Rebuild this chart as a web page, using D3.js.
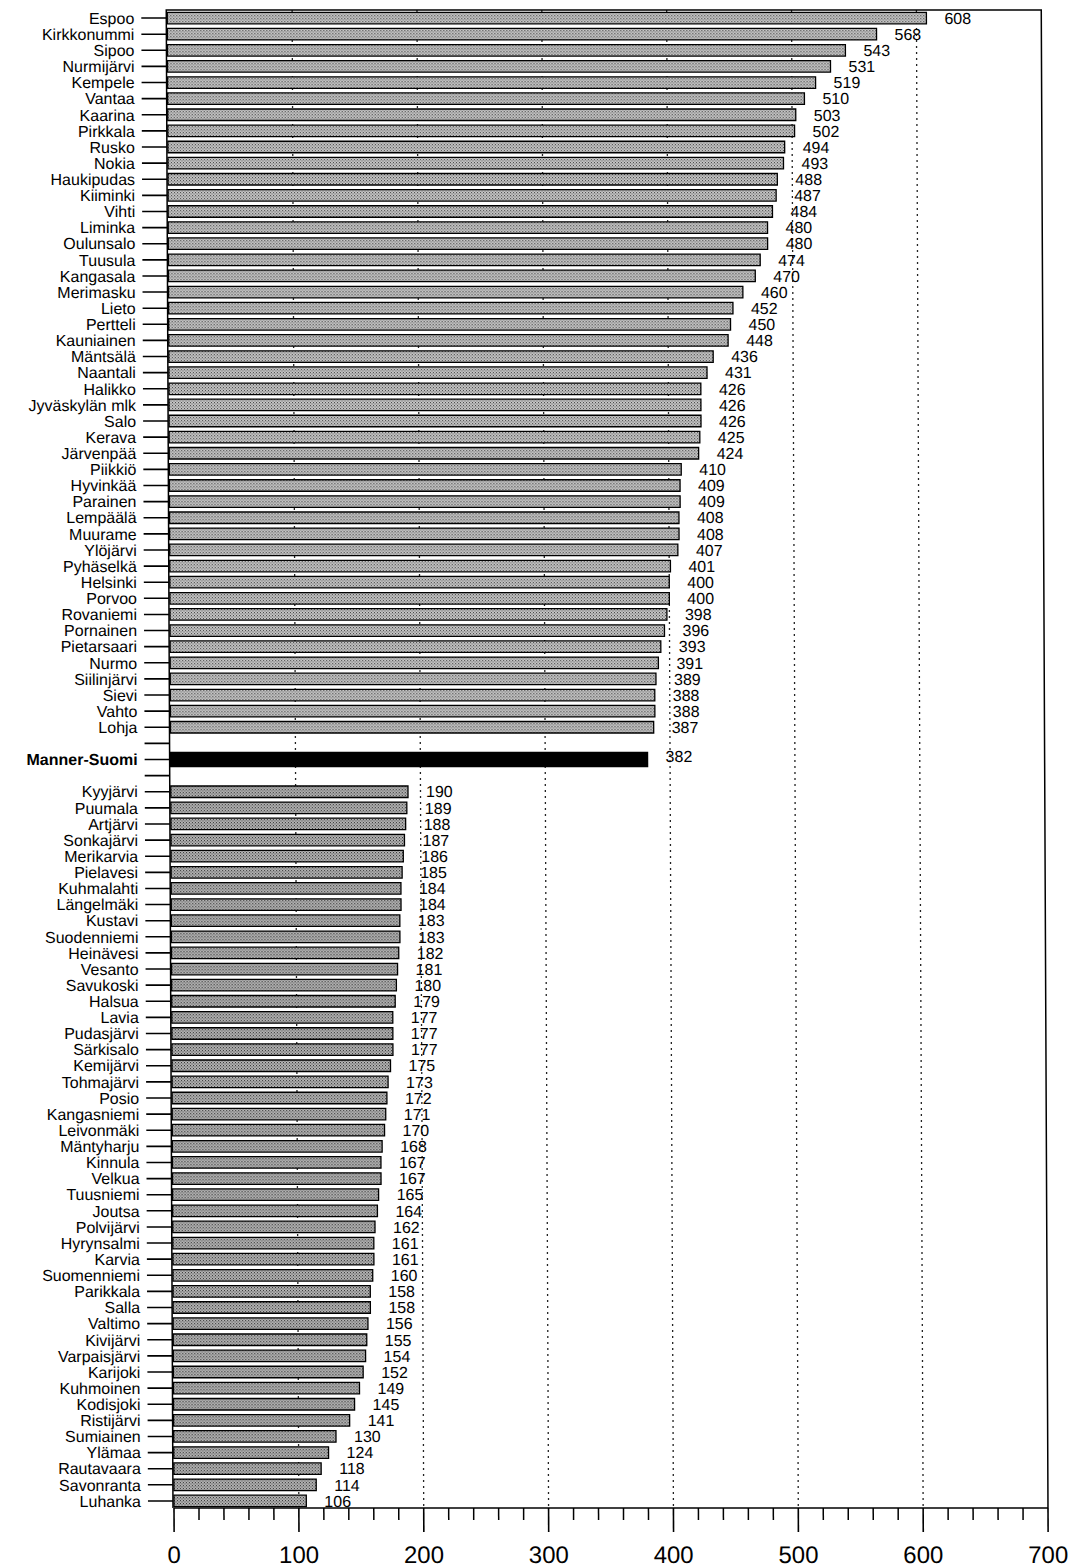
<!DOCTYPE html>
<html><head><meta charset="utf-8">
<script src="https://cdn.jsdelivr.net/npm/d3@7"></script>
<style>body{margin:0;background:#fff}svg{display:block}text{font-family:"Liberation Sans",Arial,Helvetica,sans-serif;fill:#000}</style>
</head><body><svg id="c" width="1081" height="1568"></svg>
<script>
const topNames=["Espoo","Kirkkonummi","Sipoo","Nurmijärvi","Kempele","Vantaa","Kaarina","Pirkkala","Rusko","Nokia","Haukipudas","Kiiminki","Vihti","Liminka","Oulunsalo","Tuusula","Kangasala","Merimasku","Lieto","Pertteli","Kauniainen","Mäntsälä","Naantali","Halikko","Jyväskylän mlk","Salo","Kerava","Järvenpää","Piikkiö","Hyvinkää","Parainen","Lempäälä","Muurame","Ylöjärvi","Pyhäselkä","Helsinki","Porvoo","Rovaniemi","Pornainen","Pietarsaari","Nurmo","Siilinjärvi","Sievi","Vahto","Lohja"];
const topValues=[608,568,543,531,519,510,503,502,494,493,488,487,484,480,480,474,470,460,452,450,448,436,431,426,426,426,425,424,410,409,409,408,408,407,401,400,400,398,396,393,391,389,388,388,387];
const avgName="Manner-Suomi";
const avgValue=382;
const bottomNames=["Kyyjärvi","Puumala","Artjärvi","Sonkajärvi","Merikarvia","Pielavesi","Kuhmalahti","Längelmäki","Kustavi","Suodenniemi","Heinävesi","Vesanto","Savukoski","Halsua","Lavia","Pudasjärvi","Särkisalo","Kemijärvi","Tohmajärvi","Posio","Kangasniemi","Leivonmäki","Mäntyharju","Kinnula","Velkua","Tuusniemi","Joutsa","Polvijärvi","Hyrynsalmi","Karvia","Suomenniemi","Parikkala","Salla","Valtimo","Kivijärvi","Varpaisjärvi","Karijoki","Kuhmoinen","Kodisjoki","Ristijärvi","Sumiainen","Ylämaa","Rautavaara","Savonranta","Luhanka"];
const bottomValues=[190,189,188,187,186,185,184,184,183,183,182,181,180,179,177,177,177,175,173,172,171,170,168,167,167,165,164,162,161,161,160,158,158,156,155,154,152,149,145,141,130,124,118,114,106];
const gridValues=[100,200,300,400,500,600];
const majorTicks=[0,100,200,300,400,500,600,700];
const minorStep=20;

const rows=[];
topNames.forEach((n,i)=>rows.push({name:n,value:topValues[i],group:"top"}));
rows.push({name:"",value:null,group:"gap"});
rows.push({name:avgName,value:avgValue,group:"avg"});
rows.push({name:"",value:null,group:"gap"});
bottomNames.forEach((n,i)=>rows.push({name:n,value:bottomValues[i],group:"bottom"}));
rows.forEach((d,i)=>d.i=i);

const svg=d3.select("#c");
const defs=svg.append("defs");
function pat(id,bg,dot){
  const p=defs.append("pattern").attr("id",id).attr("width",3).attr("height",3).attr("patternUnits","userSpaceOnUse");
  p.append("rect").attr("width",3).attr("height",3).attr("fill",bg);
  p.append("rect").attr("x",0).attr("y",0).attr("width",1).attr("height",1).attr("fill",dot);
  p.append("rect").attr("x",1.5).attr("y",1.5).attr("width",1).attr("height",1).attr("fill",dot);
}
pat("pTop","#c6c6c6","#3a3a3a");
pat("pBot","#b4b4b4","#2a2a2a");

const yTop=10, yBot=1508;
const x=d3.scaleLinear().domain([0,700]).range([174,1048]);
const y=d3.scaleBand().domain(rows.map(d=>d.i)).range([yTop,1509]);
const cy=d=>y(d.i)+y.bandwidth()/2;

// slight skew as in the scanned original
const k=0.0045;
const g=svg.append("g").attr("transform",`translate(${-k*yBot},0) skewX(${Math.atan(k)*180/Math.PI})`);

// grid
g.selectAll("line.grid").data(gridValues).join("line")
  .attr("x1",d=>x(d)).attr("x2",d=>x(d)).attr("y1",yTop).attr("y2",yBot)
  .attr("stroke","#222").attr("stroke-width",1.3).attr("stroke-dasharray","2,4");

// frame
g.append("path").attr("d",`M${x(0)-1},${yBot}V${yTop}H${x(700)}V${yBot}`)
  .attr("fill","none").attr("stroke","#000").attr("stroke-width",1.5);

// y ticks
g.selectAll("line.yt").data(rows).join("line")
  .attr("x1",x(0)-26).attr("x2",x(0)-1)
  .attr("y1",cy).attr("y2",cy)
  .attr("stroke","#000").attr("stroke-width",1.6);

// bars
const bh=11.5;
const valued=rows.filter(d=>d.value!=null);
g.selectAll("rect.bar").data(valued).join("rect")
  .attr("x",x(0))
  .attr("y",d=>cy(d)-(d.group==="avg"?7:bh/2))
  .attr("width",d=>x(d.value)-x(0))
  .attr("height",d=>d.group==="avg"?14:bh)
  .attr("fill",d=>d.group==="avg"?"#000":(d.group==="top"?"url(#pTop)":"url(#pBot)"))
  .attr("stroke","#000").attr("stroke-width",1.3);

// category labels
g.selectAll("text.cat").data(rows).join("text")
  .attr("x",x(0)-33)
  .attr("y",cy)
  .attr("dy","0.36em")
  .attr("text-anchor","end")
  .attr("font-size",16)
  .attr("font-weight",d=>d.group==="avg"?"bold":"normal")
  .text(d=>d.name);

// value labels
g.selectAll("text.val").data(valued).join("text")
  .attr("x",d=>x(d.value)+18)
  .attr("y",d=>cy(d)+(d.group==="avg"?-3:0))
  .attr("dy","0.36em")
  .attr("font-size",16)
  .text(d=>d.value);

// x axis
g.append("line").attr("x1",x(0)).attr("x2",x(700)).attr("y1",yBot).attr("y2",yBot)
  .attr("stroke","#000").attr("stroke-width",1.6);
const minor=d3.range(0,701,minorStep).filter(v=>v%100!==0);
g.selectAll("line.mn").data(minor).join("line")
  .attr("x1",d=>x(d)).attr("x2",d=>x(d)).attr("y1",yBot).attr("y2",yBot+12)
  .attr("stroke","#000").attr("stroke-width",1.5);
g.selectAll("line.mj").data(majorTicks).join("line")
  .attr("x1",d=>x(d)).attr("x2",d=>x(d)).attr("y1",yBot).attr("y2",yBot+24)
  .attr("stroke","#000").attr("stroke-width",1.6);
g.selectAll("text.xl").data(majorTicks).join("text")
  .attr("x",d=>x(d)).attr("y",1563)
  .attr("text-anchor","middle").attr("font-size",24)
  .text(d=>d);
</script></body></html>
